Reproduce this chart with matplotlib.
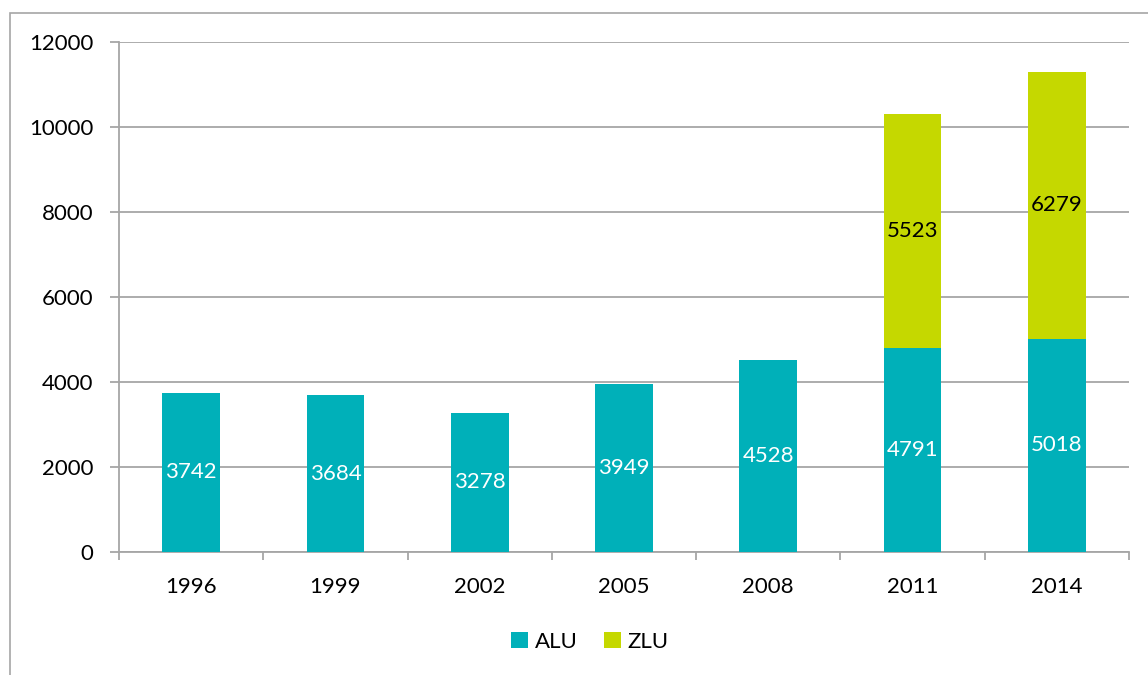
import numpy as np
import matplotlib.pyplot as plt
from matplotlib.patches import Rectangle

plt.rcParams['font.family'] = ['Lato', 'DejaVu Sans']

years = ['1996', '1999', '2002', '2005', '2008', '2011', '2014']
alu = [3742, 3684, 3278, 3949, 4528, 4791, 5018]
zlu = [0, 0, 0, 0, 0, 5523, 6279]

teal = '#00B0B9'
lime = '#C5D800'
grey = '#A6A6A6'
fs = 16

fig = plt.figure(figsize=(11.48, 6.75), dpi=100)
ax = fig.add_axes([119 / 1148, 1 - 552 / 675, 1010 / 1148, 510 / 675])

# outer chart frame (cut off at right/bottom like the original)
fig.patches.append(Rectangle((10 / 1148, -0.1), 1.2, (675 - 13) / 675 + 0.1,
                             transform=fig.transFigure, fill=False,
                             edgecolor=grey, linewidth=1.2))

x = np.arange(len(years))
w = 0.4
ax.bar(x, alu, w, color=teal, label='ALU', zorder=3)
ax.bar(x[5:], zlu[5:], w, bottom=alu[5:], color=lime, label='ZLU', zorder=3)

for xi, v in zip(x, alu):
    ax.text(xi, v / 2, str(v), ha='center', va='center', color='white', fontsize=fs, zorder=4)
for xi, a, z in zip(x[5:], alu[5:], zlu[5:]):
    ax.text(xi, a + z / 2, str(z), ha='center', va='center', color='black', fontsize=fs, zorder=4)

ax.set_xlim(-0.5, len(years) - 0.5)
ax.set_ylim(0, 12000)
ax.set_yticks(np.arange(0, 12001, 2000))
ax.yaxis.grid(True, color=grey, linewidth=1.3, zorder=0)
ax.set_xticks(x)
ax.set_xticklabels(years)
ax.set_xticks(np.arange(-0.5, len(years)), minor=True)

for s in ['top', 'right']:
    ax.spines[s].set_visible(False)
for s in ['left', 'bottom']:
    ax.spines[s].set_color(grey)
    ax.spines[s].set_linewidth(1.3)

ax.tick_params(axis='y', length=6.5, width=1.3, color=grey, pad=12, labelsize=fs)
ax.tick_params(axis='x', which='major', length=0, pad=18, labelsize=fs)
ax.tick_params(axis='x', which='minor', length=6, width=1.3, color=grey)

ax.legend(loc='center', bbox_to_anchor=(590 / 1148, 1 - 642 / 675),
          bbox_transform=fig.transFigure, ncol=2, frameon=False, fontsize=fs,
          handlelength=0.75, handleheight=0.75, handletextpad=0.3, columnspacing=1.2)

fig.savefig('out.png', dpi=100)
